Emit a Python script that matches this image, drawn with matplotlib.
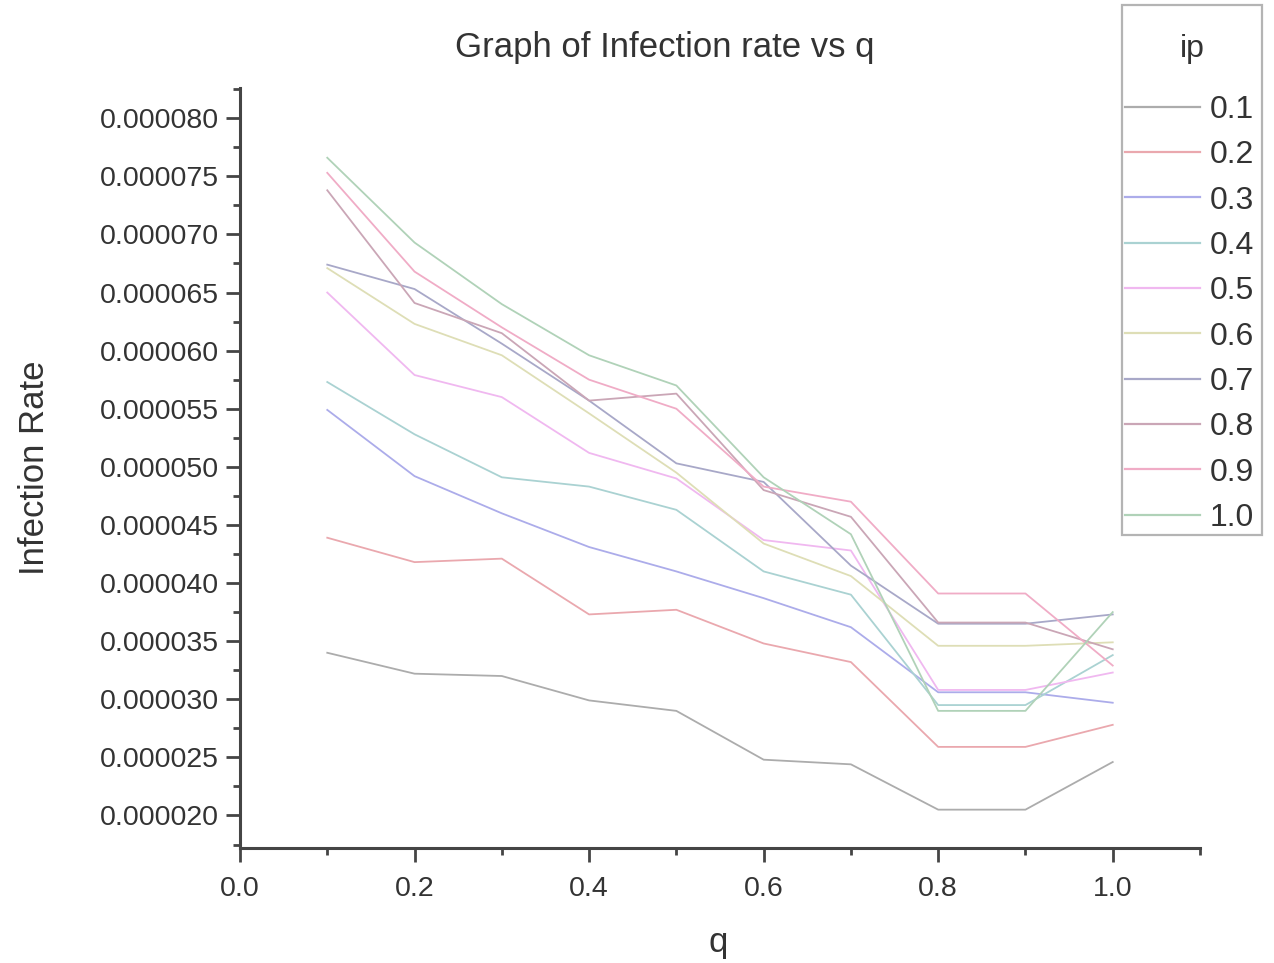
import matplotlib
matplotlib.use("Agg")
import matplotlib.pyplot as plt
from matplotlib.ticker import MultipleLocator, FuncFormatter
from matplotlib.patches import Rectangle

plt.rcParams['font.family'] = ['Liberation Sans', 'DejaVu Sans']

q = [0.1, 0.2, 0.3, 0.4, 0.5, 0.6, 0.7, 0.8, 0.9, 1.0]
ip_labels = ["0.1", "0.2", "0.3", "0.4", "0.5", "0.6", "0.7", "0.8", "0.9", "1.0"]

# infection rate values in units of 1e-6
ip01 = [34.0, 32.2, 32.0, 29.9, 29.0, 24.8, 24.4, 20.5, 20.5, 24.6]
ip02 = [43.9, 41.8, 42.1, 37.3, 37.7, 34.8, 33.2, 25.9, 25.9, 27.8]
ip03 = [54.9, 49.2, 46.0, 43.1, 41.0, 38.7, 36.2, 30.6, 30.6, 29.7]
ip04 = [57.3, 52.8, 49.1, 48.3, 46.3, 41.0, 39.0, 29.5, 29.5, 33.8]
ip05 = [65.0, 57.9, 56.0, 51.2, 49.0, 43.7, 42.8, 30.8, 30.8, 32.3]
ip06 = [67.1, 62.3, 59.6, 54.6, 49.5, 43.4, 40.6, 34.6, 34.6, 34.9]
ip07 = [67.4, 65.3, 60.6, 55.7, 50.3, 48.7, 41.5, 36.5, 36.5, 37.3]
ip08 = [73.8, 64.1, 61.5, 55.7, 56.3, 48.0, 45.7, 36.6, 36.6, 34.3]
ip09 = [75.3, 66.8, 62.0, 57.5, 55.0, 48.3, 47.0, 39.1, 39.1, 32.9]
ip10 = [76.6, 69.3, 64.0, 59.6, 57.0, 49.1, 44.2, 29.0, 29.0, 37.5]

series = [ip01, ip02, ip03, ip04, ip05, ip06, ip07, ip08, ip09, ip10]
colors = ["#acacac", "#eaa8ae", "#acacea", "#aad2d2", "#f0b8f0",
          "#dedeb6", "#a8a8c8", "#caa6b6", "#f0acc6", "#b0d2b8"]

fig = plt.figure(figsize=(12.74, 9.63), dpi=100)
ax = fig.add_axes([240/1274, 1-848/963, (1200-240)/1274, (848-88)/963])

handles = []
for vals, c, lab in zip(series, colors, ip_labels):
    h, = ax.plot(q, [v*1e-6 for v in vals], color=c, lw=1.3, label=lab)
    handles.append(h)

ax.set_xlim(0.0, 1.1)
ax.set_ylim(17.2e-6, 82.6e-6)
ax.spines['top'].set_visible(False)
ax.spines['right'].set_visible(False)
for s in ['left', 'bottom']:
    ax.spines[s].set_color('#454545')
    ax.spines[s].set_linewidth(2.2)

ax.xaxis.set_major_locator(MultipleLocator(0.2))
ax.xaxis.set_minor_locator(MultipleLocator(0.1))
ax.yaxis.set_major_locator(MultipleLocator(5e-6))
ax.yaxis.set_minor_locator(MultipleLocator(2.5e-6))
ax.yaxis.set_major_formatter(FuncFormatter(lambda v, p: f"{v:.6f}"))
ax.xaxis.set_major_formatter(FuncFormatter(lambda v, p: f"{v:.1f}"))

ax.tick_params(which='major', direction='out', length=10, width=2, color='#454545',
               labelsize=20.5, labelcolor='#333333')
ax.tick_params(which='minor', direction='out', length=5, width=2, color='#454545')
ax.tick_params(axis='y', which='major', pad=5)
ax.tick_params(axis='x', which='major', pad=10)

fig.text(665/1274, 1-48/963, "Graph of Infection rate vs q", ha='center', va='center',
         fontsize=25, color='#333333')
fig.text(35/1274, 1-468/963, "Infection Rate", ha='center', va='center', rotation=90,
         fontsize=25, color='#333333')
fig.text(718/1274, 1-942/963, "q", ha='center', va='center', fontsize=25, color='#333333')

# legend frame and title
fig.patches.append(Rectangle((1122/1274, 1-535/963), (1262-1122)/1274, (535-5)/963,
                             transform=fig.transFigure, fill=True, facecolor='white',
                             edgecolor='#b4b4b4', linewidth=1.6, zorder=5))
fig.text(1192/1274, 1-49/963, "ip", ha='center', va='center', fontsize=23,
         color='#333333', zorder=6)

leg = fig.legend(handles=handles, labels=ip_labels, loc='center left',
                 bbox_to_anchor=(1120/1274, 1-314/963), bbox_transform=fig.transFigure,
                 fontsize=23, frameon=False,
                 handlelength=2.35, handletextpad=0.3, labelspacing=0.48,
                 borderpad=0.15, borderaxespad=0.0)
leg.set_zorder(7)
for t in leg.get_texts():
    t.set_color('#333333')
for lh in leg.get_lines():
    lh.set_linewidth(1.6)

fig.savefig("out.png", dpi=100)
